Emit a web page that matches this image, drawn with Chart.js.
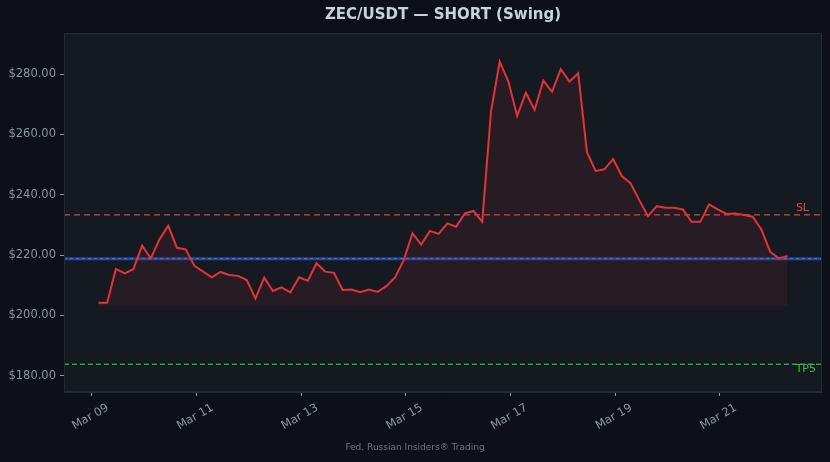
<!DOCTYPE html>
<html>
<head>
<meta charset="utf-8">
<script src="https://cdn.jsdelivr.net/npm/chart.js@4.4.1/dist/chart.umd.min.js"></script>
<style>
  html, body { margin: 0; padding: 0; background: #0d1117; }
  #wrap { width: 830px; height: 462px; }
</style>
</head>
<body>
<div id="wrap"><canvas id="priceChart" width="830" height="462"></canvas></div>
<script>
const TITLE  = 'ZEC/USDT — SHORT (Swing)';
const FOOTER = 'Fed. Russian Insiders® Trading';

// 4h closes, first bar Mar 09 03:00 (x in days of March)
const startDay = 9.125;
const stepDay  = 4 / 24;
const closes = [
  204.2, 204.2, 215.4, 213.9, 215.3, 223.1, 218.9, 225.2, 229.7, 222.4,
  221.9, 216.4, 214.5, 212.6, 214.4, 213.4, 213.1, 211.7, 205.6, 212.5,
  208.1, 209.3, 207.6, 212.6, 211.5, 217.3, 214.5, 214.1, 208.4, 208.6,
  207.7, 208.6, 207.8, 209.7, 212.6, 218.3, 227.2, 223.5, 228.0, 227.0,
  230.5, 229.4, 233.8, 234.6, 231.0, 267.5, 284.1, 277.5, 266.1, 273.8,
  268.1, 277.8, 274.1, 281.6, 277.5, 280.2, 254.2, 247.9, 248.4, 251.8,
  246.2, 243.8, 238.2, 232.9, 236.2, 235.7, 235.7, 235.1, 231.0, 231.0,
  236.8, 235.1, 233.6, 233.8, 233.3, 232.7, 228.5, 221.1, 218.9, 219.7
];

const entryPrice = 218.8;
const slPrice    = 233.3;
const tp5Price   = 183.8;
const fillBase   = 203.0;

const xTickDays   = [9, 11, 13, 15, 17, 19, 21];
const xTickLabels = ['Mar 09', 'Mar 11', 'Mar 13', 'Mar 15', 'Mar 17', 'Mar 19', 'Mar 21'];
const yTicks = [180, 200, 220, 240, 260, 280];
const yMin = 174.6;
const yMax = 293.6;

// ---- derived ----
const points = closes.map((c, i) => ({ x: startDay + i * stepDay, y: c }));
const lastDay = startDay + (closes.length - 1) * stepDay;
const xPad = (lastDay - startDay) * 0.05;
const xMin = startDay - xPad;
const xMax = lastDay + xPad;

const hline = v => [{ x: xMin, y: v }, { x: xMax, y: v }];

const TICK_COLOR = '#8b949e';
const FONT = 'DejaVu Sans';

const decorPlugin = {
  id: 'decor',
  beforeDraw(chart) {
    const { ctx, chartArea: a } = chart;
    ctx.save();
    ctx.fillStyle = '#0d1117';
    ctx.fillRect(0, 0, chart.width, chart.height);
    ctx.fillStyle = '#151a21';
    ctx.fillRect(a.left, a.top, a.right - a.left, a.bottom - a.top);
    ctx.restore();
  },
  afterDraw(chart) {
    const { ctx, chartArea: a, scales } = chart;
    ctx.save();
    // frame
    ctx.strokeStyle = '#232a33';
    ctx.lineWidth = 1;
    ctx.strokeRect(a.left + 0.5, a.top + 0.5, a.right - a.left - 1, a.bottom - a.top - 1);

    // level labels
    ctx.font = '11px ' + FONT;
    ctx.textAlign = 'right';
    ctx.fillStyle = 'rgba(229, 83, 75, 0.9)';
    ctx.textBaseline = 'bottom';
    ctx.fillText('SL', a.right - 13, scales.y.getPixelForValue(slPrice) - 1);
    ctx.fillStyle = '#3fb950';
    ctx.textBaseline = 'top';
    ctx.fillText('TP5', a.right - 6, scales.y.getPixelForValue(tp5Price) - 1);

    // title + footer
    ctx.textAlign = 'center';
    ctx.textBaseline = 'middle';
    ctx.fillStyle = '#c9d1d9';
    ctx.font = 'bold 15px ' + FONT;
    ctx.fillText(TITLE, (a.left + a.right) / 2, 15);
    ctx.fillStyle = '#6e7681';
    ctx.font = '9px ' + FONT;
    ctx.fillText(FOOTER, chart.width / 2, 448);
    ctx.restore();
  }
};

new Chart(document.getElementById('priceChart'), {
  type: 'line',
  data: {
    datasets: [
      {
        label: 'Price',
        data: points,
        borderColor: '#e3333a',
        borderWidth: 2,
        backgroundColor: 'rgba(227, 51, 58, 0.09)',
        fill: { value: fillBase },
        pointRadius: 0,
        tension: 0,
        order: 0
      },
      {
        label: 'SL',
        data: hline(slPrice),
        borderColor: 'rgba(229, 83, 75, 0.85)',
        borderWidth: 1.3,
        borderDash: [6, 4],
        pointRadius: 0,
        order: 1
      },
      {
        label: 'Entry',
        data: hline(entryPrice),
        borderColor: '#24479a',
        borderWidth: 3,
        pointRadius: 0,
        order: 2
      },
      {
        label: 'Entry mark',
        data: hline(entryPrice),
        borderColor: '#5277c2',
        borderWidth: 1,
        borderDash: [3, 3],
        pointRadius: 0,
        order: 1
      },
      {
        label: 'TP5',
        data: hline(tp5Price),
        borderColor: '#2ea043',
        borderWidth: 1.3,
        borderDash: [5, 3],
        pointRadius: 0,
        order: 1
      }
    ]
  },
  options: {
    responsive: false,
    animation: false,
    devicePixelRatio: 1,
    layout: { padding: { top: 33, right: 8, bottom: 20, left: 0 } },
    plugins: {
      legend: { display: false },
      tooltip: { enabled: false },
      title: { display: false }
    },
    scales: {
      x: {
        type: 'linear',
        min: xMin,
        max: xMax,
        afterBuildTicks: s => { s.ticks = xTickDays.map(v => ({ value: v })); },
        afterFit: s => { s.height = 50; },
        ticks: {
          callback: (v, i) => xTickLabels[i],
          color: TICK_COLOR,
          font: { family: FONT, size: 11.5 },
          minRotation: 30,
          maxRotation: 30,
          autoSkip: false,
          labelOffset: 16,
          padding: 5
        },
        grid: { drawOnChartArea: false, drawTicks: true, tickLength: 4, color: TICK_COLOR },
        border: { display: true, color: '#232a33' }
      },
      y: {
        min: yMin,
        max: yMax,
        afterBuildTicks: s => { s.ticks = yTicks.map(v => ({ value: v })); },
        afterFit: s => { s.width = 64; },
        ticks: {
          callback: v => '$' + v.toFixed(2),
          color: TICK_COLOR,
          font: { family: FONT, size: 11.5 },
          padding: 4
        },
        grid: { drawOnChartArea: false, drawTicks: true, tickLength: 4, color: TICK_COLOR },
        border: { display: true, color: '#232a33' }
      }
    }
  },
  plugins: [decorPlugin]
});
</script>
</body>
</html>
